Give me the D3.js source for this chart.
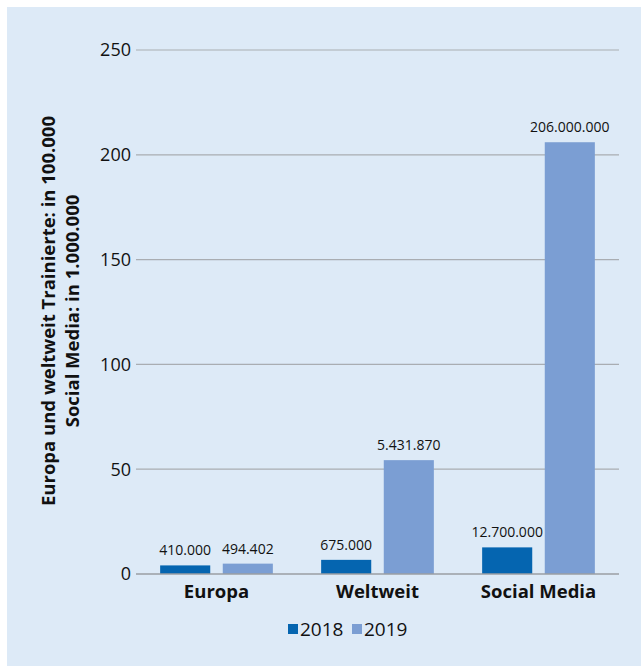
<!DOCTYPE html>
<html>
<head>
<meta charset="utf-8">
<script src="https://cdn.jsdelivr.net/npm/d3@7"></script>
<style>
  body { margin: 0; background: #fff; }
  text { font-family: "Open Sans", "Noto Sans", sans-serif; fill: #111; }
</style>
</head>
<body>
<svg id="chart" width="641" height="666"></svg>
<script>
// data
var categories = ["Europa", "Weltweit", "Social Media"];
var years = ["2018", "2019"];
var values2018 = [4.1, 6.75, 12.7];
var values2019 = [4.94402, 54.3187, 206];
var labels2018 = ["410.000", "675.000", "12.700.000"];
var labels2019 = ["494.402", "5.431.870", "206.000.000"];
var yTicks = [0, 50, 100, 150, 200, 250];

var colors = { "2018": "#0565b0", "2019": "#7b9ed3" };

var svg = d3.select("#chart");

// panel background
svg.append("rect")
    .attr("x", 7).attr("y", 7)
    .attr("width", 634).attr("height", 659)
    .attr("fill", "#ddeaf7");

var margin = { left: 136, right: 22, top: 50, bottom: 92 };
var width = 641 - margin.left - margin.right,
    height = 666 - margin.top - margin.bottom;

var g = svg.append("g")
    .attr("transform", "translate(" + margin.left + "," + margin.top + ")");

var x0 = d3.scaleBand().domain(categories).range([0, width]).paddingInner(0.3).paddingOuter(0.15);
var x1 = d3.scaleBand().domain(years).range([0, x0.bandwidth()]).paddingInner(0.2);
var y = d3.scaleLinear().domain([0, 250]).range([height, 0]);

// gridlines
g.selectAll(".grid")
    .data(yTicks.filter(function(d) { return d > 0; }))
    .enter().append("line")
    .attr("x1", 0).attr("x2", width)
    .attr("y1", function(d) { return y(d); })
    .attr("y2", function(d) { return y(d); })
    .attr("stroke", "#a9adb2").attr("stroke-width", 1.2);

// y tick labels
g.selectAll(".ytick")
    .data(yTicks)
    .enter().append("text")
    .attr("x", -5)
    .attr("y", function(d) { return y(d); })
    .attr("dy", "0.35em")
    .attr("text-anchor", "end")
    .style("font-size", "18px")
    .text(function(d) { return d; });

// bars
var rows = categories.map(function(c, i) {
  return { cat: c, vals: [
    { year: "2018", v: values2018[i], label: labels2018[i] },
    { year: "2019", v: values2019[i], label: labels2019[i] }
  ] };
});

var grp = g.selectAll(".cat")
    .data(rows)
    .enter().append("g")
    .attr("transform", function(d) { return "translate(" + x0(d.cat) + ",0)"; });

grp.selectAll("rect")
    .data(function(d) { return d.vals; })
    .enter().append("rect")
    .attr("x", function(d) { return x1(d.year); })
    .attr("y", function(d) { return y(d.v); })
    .attr("width", x1.bandwidth())
    .attr("height", function(d) { return height - y(d.v); })
    .attr("fill", function(d) { return colors[d.year]; });

grp.selectAll(".val")
    .data(function(d) { return d.vals; })
    .enter().append("text")
    .attr("x", function(d) { return x1(d.year) + x1.bandwidth() / 2; })
    .attr("y", function(d) { return y(d.v) - 10; })
    .attr("text-anchor", "middle")
    .style("font-size", "14px")
    .text(function(d) { return d.label; });

// baseline
g.append("line")
    .attr("x1", 0).attr("x2", width)
    .attr("y1", height).attr("y2", height)
    .attr("stroke", "#9a9ea3").attr("stroke-width", 1.5);

// category labels
g.selectAll(".catlabel")
    .data(categories)
    .enter().append("text")
    .attr("x", function(d) { return x0(d) + x0.bandwidth() / 2; })
    .attr("y", height + 24)
    .attr("text-anchor", "middle")
    .style("font-size", "18.5px")
    .style("font-weight", "bold")
    .text(function(d) { return d; });

// legend
var legend = svg.append("g").attr("transform", "translate(288,629)");
var lx = [0, 64];
years.forEach(function(yr, i) {
  legend.append("rect")
      .attr("x", lx[i]).attr("y", -5)
      .attr("width", 10).attr("height", 10)
      .attr("fill", colors[yr]);
  legend.append("text")
      .attr("x", lx[i] + 12).attr("y", 0)
      .attr("dy", "0.35em")
      .style("font-size", "19px")
      .text(yr);
});

// y axis title
var title = svg.append("text")
    .attr("transform", "translate(0," + 311 + ") rotate(-90)")
    .attr("text-anchor", "middle")
    .style("font-size", "18.5px")
    .style("font-weight", "bold");
title.append("tspan").attr("x", 0).attr("y", 55).text("Europa und weltweit Trainierte: in 100.000");
title.append("tspan").attr("x", 0).attr("y", 79).text("Social Media: in 1.000.000");
</script>
</body>
</html>
